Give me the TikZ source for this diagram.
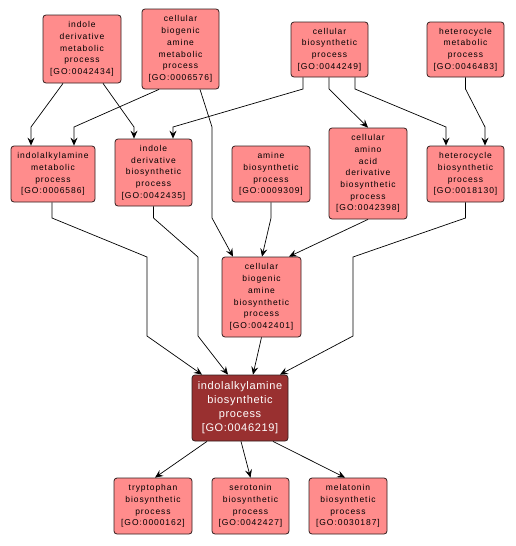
\documentclass[tikz,border=0pt]{standalone}
\usepackage{fontspec}
\setmainfont{Liberation Sans}
\newfontfamily\boxfont[LetterSpace=11]{Liberation Sans}
\newfontfamily\mainfont[LetterSpace=6]{Liberation Sans}
\usetikzlibrary{arrows.meta}
\definecolor{gopink}{RGB}{255,140,140}
\definecolor{godark}{RGB}{153,48,48}
\definecolor{goline}{RGB}{50,30,30}
\tikzset{
  gobox/.style={draw=goline, line width=0.8pt, fill=gopink, rounded corners=3pt, align=center, inner sep=0pt,
    font=\boxfont\fontsize{8.5}{11.7}\selectfont, text=black},
  gomain/.style={draw=goline, line width=0.8pt, fill=godark, rounded corners=3pt, align=center, inner sep=0pt,
    font=\mainfont\fontsize{11}{14}\selectfont, text=white},
  edge/.style={draw=black, line width=0.7pt, -{Stealth[length=8pt,width=7pt,inset=3pt]}}
}
\begin{document}
\begin{tikzpicture}[x=1pt,y=-1pt]
\useasboundingbox (0,0) rectangle (515,546);
% nodes
\node[gobox, minimum width=78pt, minimum height=68pt] (A) at (82,49) {indole\\derivative\\metabolic\\process\\{}[GO:0042434]};
\node[gobox, minimum width=77pt, minimum height=80pt] (B) at (180.5,49) {cellular\\biogenic\\amine\\metabolic\\process\\{}[GO:0006576]};
\node[gobox, minimum width=77pt, minimum height=55pt] (E) at (329.5,49.5) {cellular\\biosynthetic\\process\\{}[GO:0044249]};
\node[gobox, minimum width=77pt, minimum height=55pt] (F) at (465.5,49.5) {heterocycle\\metabolic\\process\\{}[GO:0046483]};
\node[gobox, minimum width=84pt, minimum height=56pt] (C) at (53,174) {indolalkylamine\\metabolic\\process\\{}[GO:0006586]};
\node[gobox, minimum width=77pt, minimum height=67pt] (D) at (153.5,172.5) {indole\\derivative\\biosynthetic\\process\\{}[GO:0042435]};
\node[gobox, minimum width=78pt, minimum height=56pt] (G) at (271,174) {amine\\biosynthetic\\process\\{}[GO:0009309]};
\node[gobox, minimum width=78pt, minimum height=91pt] (H) at (368,173.5) {cellular\\amino\\acid\\derivative\\biosynthetic\\process\\{}[GO:0042398]};
\node[gobox, minimum width=77pt, minimum height=56pt] (I) at (465.5,174) {heterocycle\\biosynthetic\\process\\{}[GO:0018130]};
\node[gobox, minimum width=79pt, minimum height=80pt] (J) at (261.5,297) {cellular\\biogenic\\amine\\biosynthetic\\process\\{}[GO:0042401]};
\node[gomain, minimum width=96pt, minimum height=66pt] (K) at (240,408) {indolalkylamine\\biosynthetic\\process\\{}[GO:0046219]};
\node[gobox, minimum width=78pt, minimum height=56pt] (L) at (153,506) {tryptophan\\biosynthetic\\process\\{}[GO:0000162]};
\node[gobox, minimum width=77pt, minimum height=56pt] (M) at (250.5,506) {serotonin\\biosynthetic\\process\\{}[GO:0042427]};
\node[gobox, minimum width=78pt, minimum height=56pt] (N) at (348,506) {melatonin\\biosynthetic\\process\\{}[GO:0030187]};
% edges
\draw[edge] ([xshift=-19pt]A.south) -- (31,127) -- ([xshift=-22pt]C.north);
\draw[edge] ([xshift=21pt]A.south) -- (134,127) -- ([xshift=-19.5pt]D.north);
\draw[edge] ([xshift=-21.5pt]B.south) -- (74,127) -- ([xshift=21pt]C.north);
\draw[edge] ([xshift=19.5pt]B.south) -- (212,127) -- (212,218) -- ([xshift=-28.5pt]J.north);
\draw[edge] ([xshift=-26.5pt]E.south) -- (303,89) -- (173,127) -- ([xshift=19.5pt]D.north);
\draw[edge] ([xshift=-0.5pt]E.south) -- (329,89) -- (H.north);
\draw[edge] ([xshift=25.5pt]E.south) -- (355,89) -- (446,127) -- ([xshift=-19.5pt]I.north);
\draw[edge] (F.south) -- (465.5,89) -- (485,127) -- ([xshift=19.5pt]I.north);
\draw[edge] ([xshift=-1pt]C.south) -- (52,218) -- (147,257) -- (147,336) -- ([xshift=-38pt]K.north);
\draw[edge] (D.south) -- (153.5,218) -- (198,257) -- (198,336) -- ([xshift=-12pt]K.north);
\draw[edge] (G.south) -- (271,218) -- ([xshift=0.5pt]J.north);
\draw[edge] (H.south) -- ([xshift=27.5pt]J.north);
\draw[edge] (I.south) -- (465.5,218) -- (353,257) -- (353,336) -- ([xshift=40pt]K.north);
\draw[edge] (J.south) -- ([xshift=13pt]K.north);
\draw[edge] ([xshift=-33pt]K.south) -- ([xshift=2pt]L.north);
\draw[edge] ([xshift=1pt]K.south) -- (M.north);
\draw[edge] ([xshift=33pt]K.south) -- ([xshift=-3pt]N.north);
\end{tikzpicture}
\end{document}
